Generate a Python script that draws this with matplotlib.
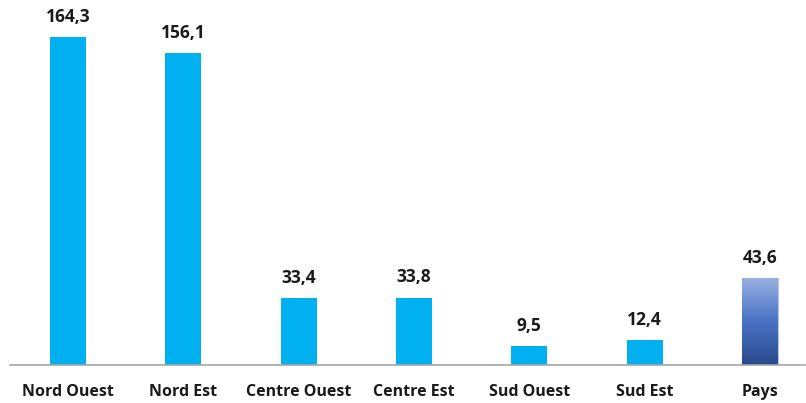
import numpy as np
import matplotlib.pyplot as plt
from matplotlib.colors import LinearSegmentedColormap

regions = ["Nord Ouest", "Nord Est", "Centre Ouest", "Centre Est", "Sud Ouest", "Sud Est", "Pays"]
values = [164.3, 156.1, 33.4, 33.8, 9.5, 12.4, 43.6]
labels = ["164,3", "156,1", "33,4", "33,8", "9,5", "12,4", "43,6"]

plt.rcParams['font.family'] = ['Open Sans', 'DejaVu Sans']

fig = plt.figure(figsize=(8.06, 4.03), dpi=100)
ax = fig.add_axes([10 / 806, 38 / 403, 795 / 806, 365 / 403])

x = np.arange(len(regions))
width = 0.31
colors = ["#00b0f0"] * 6 + ["none"]
bars = ax.bar(x, values, width=width, color=colors, zorder=2)

# gradient fill for the country bar
pays = bars[-1]
grad_cmap = LinearSegmentedColormap.from_list("pays", ["#2a4a8e", "#4a72c4", "#9ab2e2"])
bx, by = pays.get_x(), pays.get_y()
bw, bh = pays.get_width(), pays.get_height()
grad = np.linspace(0, 1, 256).reshape(-1, 1)
img = ax.imshow(grad, cmap=grad_cmap, origin="lower", aspect="auto",
                extent=[bx, bx + bw, by, by + bh], zorder=2)
img.set_clip_path(pays)
pays.set_edgecolor("#b4c7e7")
pays.set_linewidth(0.8)

for xi, v, lab in zip(x, values, labels):
    ax.annotate(lab, (xi, v), xytext=(0, 8), textcoords="offset points",
                ha="center", va="bottom", fontsize=12.5, fontweight="bold", color="#1a1a1a")

ax.set_xlim(-0.503, 6.39)
ax.set_ylim(0, 182.9)
ax.set_xticks(x)
ax.set_xticklabels(regions, fontsize=11.5, fontweight="bold", color="#1a1a1a")
ax.tick_params(axis="x", length=0, pad=14)
ax.set_yticks([])
for side in ["top", "right", "left"]:
    ax.spines[side].set_visible(False)
ax.spines["bottom"].set_color("#a6a6a6")
ax.spines["bottom"].set_linewidth(1.2)

fig.savefig("out.png", dpi=100, facecolor="white")
